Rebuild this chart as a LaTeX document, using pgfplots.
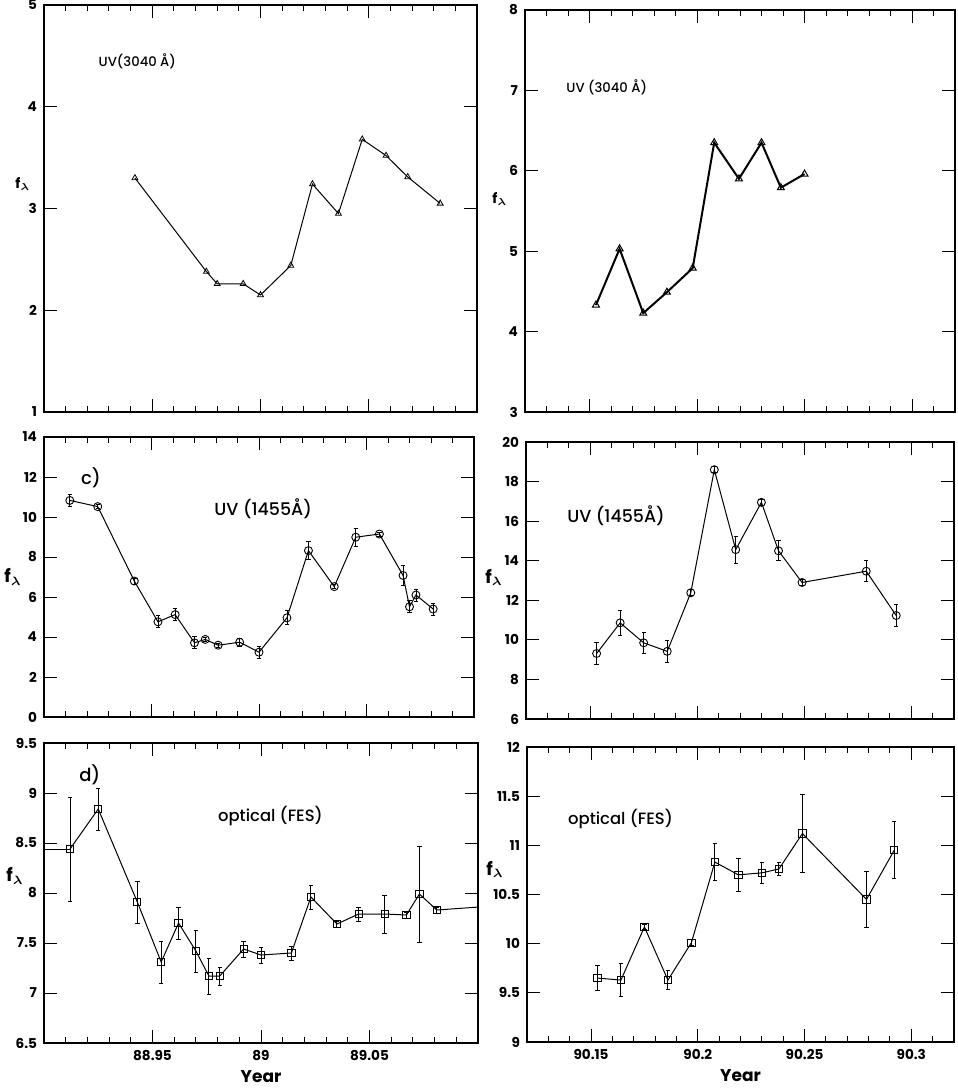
\documentclass[border=0pt]{standalone}
\usepackage{pgfplots}
\pgfplotsset{compat=1.18}
\usepackage{fontspec}
\setmainfont{Poppins}
\newfontfamily\medfont{Poppins Medium}

% common look of the six light-curve panels
\pgfplotsset{
  panel/.style={
    scale only axis,
    anchor=north west,
    axis line style={line width=0.6pt},
    tick align=inside,
    tick style={line width=0.5pt, black},
    major tick length=6.5pt,
    minor tick length=3pt,
    /pgf/number format/assume math mode=true,
    tick label style={font=\bfseries\fontsize{6.8}{7}\selectfont},
    clip mode=individual,
  },
  leftcol/.style={
    xmin=88.90, xmax=89.10,
    xtick={88.95,89,89.05},
    minor xtick={88.91,88.92,88.93,88.94,88.96,88.97,88.98,88.99,89.01,89.02,89.03,89.04,89.06,89.07,89.08,89.09},
  },
  rightcol/.style={
    xmin=90.12, xmax=90.32,
    xtick={90.15,90.2,90.25,90.3},
    minor xtick={90.13,90.14,90.16,90.17,90.18,90.19,90.21,90.22,90.23,90.24,90.26,90.27,90.28,90.29,90.31},
  },
  nolabels/.style={xticklabels={}},
  curve/.style={black, line width=0.5pt},
  errs/.style={
    error bars/.cd, y dir=both, y explicit,
    error bar style={line width=0.45pt, black},
    error mark options={rotate=90, mark size=1.1pt, line width=0.45pt},
  },
  yearlabel/.style={
    xlabel={Year},
    xlabel style={font=\bfseries\fontsize{8.5}{9}\selectfont, yshift=2pt},
  },
}
\newcommand{\flam}{\bfseries f$_{\boldsymbol{\lambda}}$}
\usepackage{amsmath}

\begin{document}
\begin{tikzpicture}
\useasboundingbox (0,0) rectangle (479pt,-544pt);

% ---------------- UV 3040 A, 1988/89 ----------------
\begin{axis}[panel, leftcol, nolabels,
  at={(22pt,-2.5pt)}, width=216.5pt, height=203.5pt,
  ymin=1, ymax=5, ytick={1,2,3,4,5}]
\addplot[curve, mark=triangle, mark size=1.7pt, mark options={line width=0.4pt}] coordinates {
 (88.942,3.30) (88.975,2.38) (88.980,2.26) (88.992,2.26) (89.000,2.15)
 (89.014,2.44) (89.024,3.24) (89.036,2.95) (89.047,3.68) (89.058,3.52)
 (89.068,3.31) (89.083,3.05)};
\node[anchor=west, font=\medfont\fontsize{6.6}{7}\selectfont] at (axis cs:88.922,4.45) {UV(3040 Å)};
\node[font=\fontsize{7}{8}\selectfont] at (rel axis cs:0,0.56) [xshift=-10.5pt] {\flam};
\end{axis}

% ---------------- UV 3040 A, 1990 ----------------
\begin{axis}[panel, rightcol, nolabels,
  at={(262.5pt,-5pt)}, width=215pt, height=201pt,
  ymin=3, ymax=8, ytick={3,4,5,6,7,8}]
\addplot[black, line width=1pt, mark=triangle, mark size=2pt, mark options={line width=0.5pt}] coordinates {
 (90.153,4.33) (90.164,5.03) (90.175,4.23) (90.186,4.49) (90.198,4.79)
 (90.208,6.35) (90.2195,5.90) (90.230,6.35) (90.239,5.79) (90.250,5.96)};
\node[anchor=west, font=\medfont\fontsize{6.6}{7}\selectfont] at (axis cs:90.136,7.04) {UV (3040 Å)};
\node[font=\fontsize{7}{8}\selectfont] at (rel axis cs:0,0.53) [xshift=-12.5pt] {\flam};
\end{axis}

% ---------------- UV 1455 A, 1988/89 ----------------
\begin{axis}[panel, leftcol, nolabels,
  at={(22pt,-218.5pt)}, width=215pt, height=140pt,
  ymin=0, ymax=14, ytick={0,2,4,6,8,10,12,14}]
\addplot[curve, mark=o, mark size=2pt, mark options={line width=0.45pt}, errs] coordinates {
 (88.912,10.83) +- (0,0.30)
 (88.925,10.52) +- (0,0.10)
 (88.942,6.80) +- (0,0.15)
 (88.953,4.76) +- (0,0.30)
 (88.961,5.12) +- (0,0.30)
 (88.970,3.71) +- (0,0.30)
 (88.975,3.88) +- (0,0.10)
 (88.981,3.59) +- (0,0.10)
 (88.991,3.74) +- (0,0.20)
 (89.000,3.24) +- (0,0.30)
 (89.013,4.96) +- (0,0.35)
 (89.023,8.32) +- (0,0.45)
 (89.035,6.52) +- (0,0.10)
 (89.045,8.99) +- (0,0.45)
 (89.056,9.15) +- (0,0.10)
 (89.067,7.08) +- (0,0.50)
 (89.070,5.51) +- (0,0.30)
 (89.073,6.10) +- (0,0.30)
 (89.081,5.40) +- (0,0.30)};
\node[anchor=west, font=\medfont\fontsize{9}{10}\selectfont] at (axis cs:88.914,11.95) {c)};
\node[anchor=west, font=\medfont\fontsize{8.7}{10}\selectfont] at (axis cs:88.976,10.44) {UV (1455Å)};
\node[font=\fontsize{9}{10}\selectfont] at (rel axis cs:0,0.5) [xshift=-15.5pt] {\flam};
\end{axis}

% ---------------- UV 1455 A, 1990 ----------------
\begin{axis}[panel, rightcol, nolabels,
  at={(263pt,-221pt)}, width=214pt, height=138.5pt,
  ymin=6, ymax=20, ytick={6,8,10,12,14,16,18,20}]
\addplot[curve, mark=o, mark size=2pt, mark options={line width=0.45pt}, errs] coordinates {
 (90.153,9.31) +- (0,0.55)
 (90.164,10.86) +- (0,0.65)
 (90.175,9.85) +- (0,0.53)
 (90.186,9.42) +- (0,0.55)
 (90.197,12.38) +- (0,0.15)
 (90.208,18.60) +- (0,0.15)
 (90.218,14.56) +- (0,0.69)
 (90.230,16.95) +- (0,0.15)
 (90.238,14.50) +- (0,0.50)
 (90.249,12.90) +- (0,0.15)
 (90.279,13.47) +- (0,0.53)
 (90.293,11.23) +- (0,0.54)};
\node[anchor=west, font=\medfont\fontsize{8.7}{10}\selectfont] at (axis cs:90.136,16.3) {UV (1455Å)};
\node[font=\fontsize{9}{10}\selectfont] at (rel axis cs:0,0.51) [xshift=-16pt] {\flam};
\end{axis}

% ---------------- optical FES, 1988/89 ----------------
\begin{axis}[panel, leftcol, yearlabel,
  at={(22pt,-371.5pt)}, width=217pt, height=150pt,
  ymin=6.5, ymax=9.5, ytick={6.5,7,7.5,8,8.5,9,9.5},
  yticklabels={6.5,7,7.5,8,8.5,9,9.5},
  xticklabels={88.95,89,89.05}]
% the light curve continues beyond both edges of the window
\addplot[curve] coordinates {(88.880,8.44) (88.912,8.44)};
\addplot[curve] coordinates {(89.081,7.83) (89.120,7.89)};
\addplot[curve, mark=square, mark size=1.8pt, mark options={line width=0.45pt}, errs] coordinates {
 (88.912,8.44) +- (0,0.52)
 (88.925,8.84) +- (0,0.21)
 (88.943,7.91) +- (0,0.21)
 (88.954,7.31) +- (0,0.21)
 (88.962,7.70) +- (0,0.16)
 (88.970,7.42) +- (0,0.21)
 (88.976,7.17) +- (0,0.18)
 (88.981,7.17) +- (0,0.09)
 (88.992,7.44) +- (0,0.08)
 (89.000,7.38) +- (0,0.08)
 (89.014,7.40) +- (0,0.07)
 (89.023,7.96) +- (0,0.12)
 (89.035,7.69) +- (0,0.03)
 (89.045,7.79) +- (0,0.07)
 (89.057,7.79) +- (0,0.19)
 (89.067,7.78) +- (0,0.03)
 (89.073,7.99) +- (0,0.48)
 (89.081,7.83) +- (0,0.03)};
\node[anchor=west, font=\medfont\fontsize{9}{10}\selectfont] at (axis cs:88.913,9.18) {d)};
\node[anchor=west, font=\medfont\fontsize{8.2}{9}\selectfont] at (axis cs:88.977,8.77) {optical (FES)};
\node[font=\fontsize{9}{10}\selectfont] at (rel axis cs:0,0.557) [xshift=-14.5pt] {\flam};
\end{axis}

% ---------------- optical FES, 1990 ----------------
\begin{axis}[panel, rightcol, yearlabel,
  at={(263.5pt,-373.5pt)}, width=213.5pt, height=147.5pt,
  ymin=9, ymax=12, ytick={9,9.5,10,10.5,11,11.5,12},
  yticklabels={9,9.5,10,10.5,11,11.5,12},
  xticklabels={90.15,90.2,90.25,90.3}]
\addplot[curve, mark=square, mark size=1.8pt, mark options={line width=0.45pt}, errs] coordinates {
 (90.153,9.65) +- (0,0.13)
 (90.164,9.63) +- (0,0.17)
 (90.175,10.17) +- (0,0.03)
 (90.186,9.63) +- (0,0.10)
 (90.197,10.01) +- (0,0.03)
 (90.208,10.83) +- (0,0.19)
 (90.219,10.70) +- (0,0.17)
 (90.230,10.72) +- (0,0.11)
 (90.238,10.76) +- (0,0.07)
 (90.249,11.12) +- (0,0.40)
 (90.279,10.45) +- (0,0.28)
 (90.292,10.95) +- (0,0.29)};
\node[anchor=west, font=\medfont\fontsize{8.2}{9}\selectfont] at (axis cs:90.136,11.27) {optical (FES)};
\node[font=\fontsize{9}{10}\selectfont] at (rel axis cs:0,0.585) [xshift=-16pt] {\flam};
\end{axis}
\end{tikzpicture}
\end{document}
